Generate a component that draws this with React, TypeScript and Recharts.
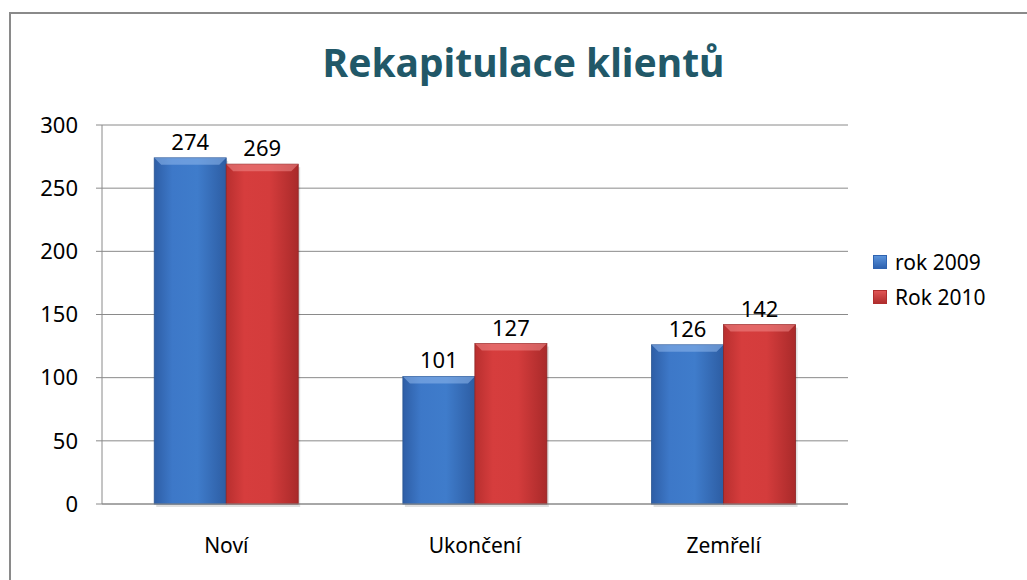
import React from "react";
import { BarChart, Bar, XAxis, YAxis, CartesianGrid, LabelList } from "recharts";

const categories = ["Noví", "Ukončení", "Zemřelí"];
const rok2009 = [274, 101, 126];
const rok2010 = [269, 127, 142];
const yTicks = [0, 50, 100, 150, 200, 250, 300];
const seriesNames = ["rok 2009", "Rok 2010"];

const data = categories.map((c, i) => ({ name: c, rok2009: rok2009[i], rok2010: rok2010[i] }));

const FONT = "'Noto Sans', 'Open Sans', sans-serif";

const makeShape = (id: string, bevel: string, edge: string) => (props: any) => {
  const { x, y, width, height } = props;
  if (!height || height <= 0) return null;
  const b = Math.min(7, width / 6);
  return (
    <g>
      <rect x={x + 2} y={y + 3} width={width} height={height} fill="rgba(0,0,0,0.12)" />
      <rect x={x} y={y} width={width} height={height} fill={`url(#${id})`} stroke={edge} strokeWidth={0.8} />
      <polygon
        points={`${x},${y} ${x + width},${y} ${x + width - b},${y + b} ${x + b},${y + b}`}
        fill={bevel}
        opacity={0.55}
      />
    </g>
  );
};

const BlueShape = makeShape("gBlue", "#8FB8EC", "#2A5592");
const RedShape = makeShape("gRed", "#F08A8A", "#8E2323");

const legendItems = [
  { label: seriesNames[0], c1: "#2F63B0", c2: "#5B93DA" },
  { label: seriesNames[1], c1: "#B02E2E", c2: "#E05555" },
];

export default function App() {
  return (
    <div style={{ position: "absolute", left: 0, top: 0, width: 1027, height: 580, overflow: "hidden", background: "#fff" }}>
      <div
        style={{
          position: "absolute",
          left: 9,
          top: 12,
          width: 1100,
          height: 700,
          border: "2px solid #8a8a8a",
          boxSizing: "border-box",
        }}
      />
      <div
        style={{
          position: "absolute",
          left: 0,
          width: 1027,
          top: 34,
          textAlign: "center",
          fontFamily: FONT,
          fontWeight: 700,
          fontSize: 39,
          color: "#215868",
          lineHeight: "56px",
        }}
      >
        <span style={{ position: "relative", left: 10 }}>Rekapitulace klientů</span>
      </div>
      <div style={{ position: "absolute", left: 0, top: 0 }}>
        <BarChart
          width={1027}
          height={580}
          data={data}
          margin={{ top: 125, right: 179, bottom: 26, left: 0 }}
          barCategoryGap="21%"
          barGap={0}
        >
          <defs>
            <linearGradient id="gBlue" x1="0" y1="0" x2="1" y2="0">
              <stop offset="0%" stopColor="#2E5EA6" />
              <stop offset="25%" stopColor="#3D78C8" />
              <stop offset="60%" stopColor="#3F7CCB" />
              <stop offset="100%" stopColor="#2D5DA3" />
            </linearGradient>
            <linearGradient id="gRed" x1="0" y1="0" x2="1" y2="0">
              <stop offset="0%" stopColor="#B82F2F" />
              <stop offset="25%" stopColor="#D63D3D" />
              <stop offset="60%" stopColor="#D43C3C" />
              <stop offset="100%" stopColor="#A92A2A" />
            </linearGradient>
          </defs>
          <CartesianGrid vertical={false} stroke="#8a8a8a" strokeWidth={1} />
          <XAxis
            dataKey="name"
            height={50}
            axisLine={{ stroke: "#8a8a8a" }}
            tickLine={false}
            tick={{ fontFamily: FONT, fontSize: 21, fill: "#000" }}
            tickMargin={28}
          />
          <YAxis
            width={102}
            domain={[0, 300]}
            ticks={yTicks}
            axisLine={{ stroke: "#8a8a8a" }}
            tickLine={{ stroke: "#8a8a8a" }}
            tickSize={6}
            tickMargin={18}
            tick={{ fontFamily: FONT, fontSize: 22, fill: "#000" }}
          />
          <Bar dataKey="rok2009" name={seriesNames[0]} fill="#3A74C4" shape={BlueShape} isAnimationActive={false}>
            <LabelList dataKey="rok2009" position="top" offset={8} style={{ fontFamily: FONT, fontSize: 22, fill: "#000" }} />
          </Bar>
          <Bar dataKey="rok2010" name={seriesNames[1]} fill="#D23C3C" shape={RedShape} isAnimationActive={false}>
            <LabelList dataKey="rok2010" position="top" offset={8} style={{ fontFamily: FONT, fontSize: 22, fill: "#000" }} />
          </Bar>
        </BarChart>
      </div>
      <div style={{ position: "absolute", left: 873, top: 244, fontFamily: FONT, fontSize: 21, color: "#000" }}>
        {legendItems.map((it) => (
          <div key={it.label} style={{ display: "flex", alignItems: "center", height: 35 }}>
            <span
              style={{
                display: "inline-block",
                width: 14,
                height: 14,
                marginRight: 8,
                boxSizing: "border-box",
                background: `linear-gradient(180deg, ${it.c2}, ${it.c1})`,
                border: `1px solid ${it.c1}`,
              }}
            />
            <span>{it.label}</span>
          </div>
        ))}
      </div>
    </div>
  );
}
